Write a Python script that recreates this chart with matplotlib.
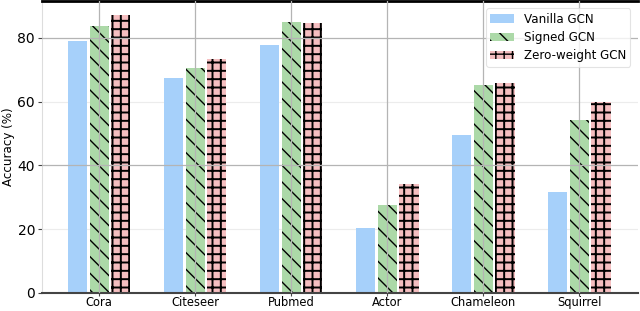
import numpy as np
import matplotlib
matplotlib.use('Agg')
import matplotlib.pyplot as plt
from matplotlib.patches import Patch

datasets = ['Cora', 'Citeseer', 'Pubmed', 'Actor', 'Chameleon', 'Squirrel']
vanilla = [79.0, 67.5, 77.8, 20.5, 49.4, 31.8]
signed = [83.8, 70.4, 84.8, 27.5, 65.3, 54.1]
zero_weight = [87.2, 73.4, 84.5, 34.2, 65.9, 59.7]

series = ['Vanilla GCN', 'Signed GCN', 'Zero-weight GCN']
colors = ['#a6d0fa', '#acd9a8', '#f5bec0']
hatches = ['', '\\\\', '++']
hatch_lw = [1.0, 1.0, 1.4]

fig = plt.figure(figsize=(6.4, 3.11), dpi=100)
ax = fig.add_axes([42 / 640, 18 / 311, 596 / 640, 292 / 311])

x = np.arange(len(datasets))
width = 0.2
offset = 0.225

# faint minor lines under the bars
for yv in [20, 60]:
    ax.axhline(yv, color='#ececec', lw=0.8, zorder=0)

for i, vals in enumerate([vanilla, signed, zero_weight]):
    with plt.rc_context({'hatch.linewidth': hatch_lw[i]}):
        ax.bar(x + (i - 1) * offset, vals, width, color=colors[i],
               edgecolor='black', linewidth=0, hatch=hatches[i], zorder=2)

# darker grid drawn on top of bars
for yv in [40, 80]:
    ax.axhline(yv, color='#b4b4b4', lw=0.9, zorder=3)
for xv in x:
    ax.axvline(xv, color='#b4b4b4', lw=0.9, zorder=3)

ax.set_xlim(-0.595, 5.61)
ax.set_ylim(0, 91.5)
ax.set_yticks([0, 20, 40, 60, 80])
ax.set_xticks(x)
ax.set_xticklabels(datasets, fontsize=8.3)
ax.tick_params(axis='y', labelsize=10, length=3, width=0.8, color='#444444', pad=2)
ax.tick_params(axis='x', length=2, width=0.8, color='#444444', pad=0.5)
ax.set_ylabel('Accuracy (%)', fontsize=8.6, labelpad=2)

ax.spines['top'].set_color('black')
ax.spines['top'].set_linewidth(2)
ax.spines['bottom'].set_color('#444444')
ax.spines['bottom'].set_linewidth(1.5)
ax.spines['left'].set_color('#dddddd')
ax.spines['right'].set_visible(False)

handles = [Patch(facecolor=colors[i], edgecolor='black', linewidth=0,
                 hatch=hatches[i], label=series[i]) for i in range(3)]
leg = ax.legend(handles=handles, loc='upper right', fontsize=8.6,
                frameon=True, borderpad=0.35, labelspacing=0.45,
                handlelength=2.0, bbox_to_anchor=(0.997, 0.995))
leg.get_frame().set_edgecolor('#dddddd')
leg.get_frame().set_linewidth(0.8)
leg.set_zorder(5)

plt.savefig('out.png', dpi=100)
